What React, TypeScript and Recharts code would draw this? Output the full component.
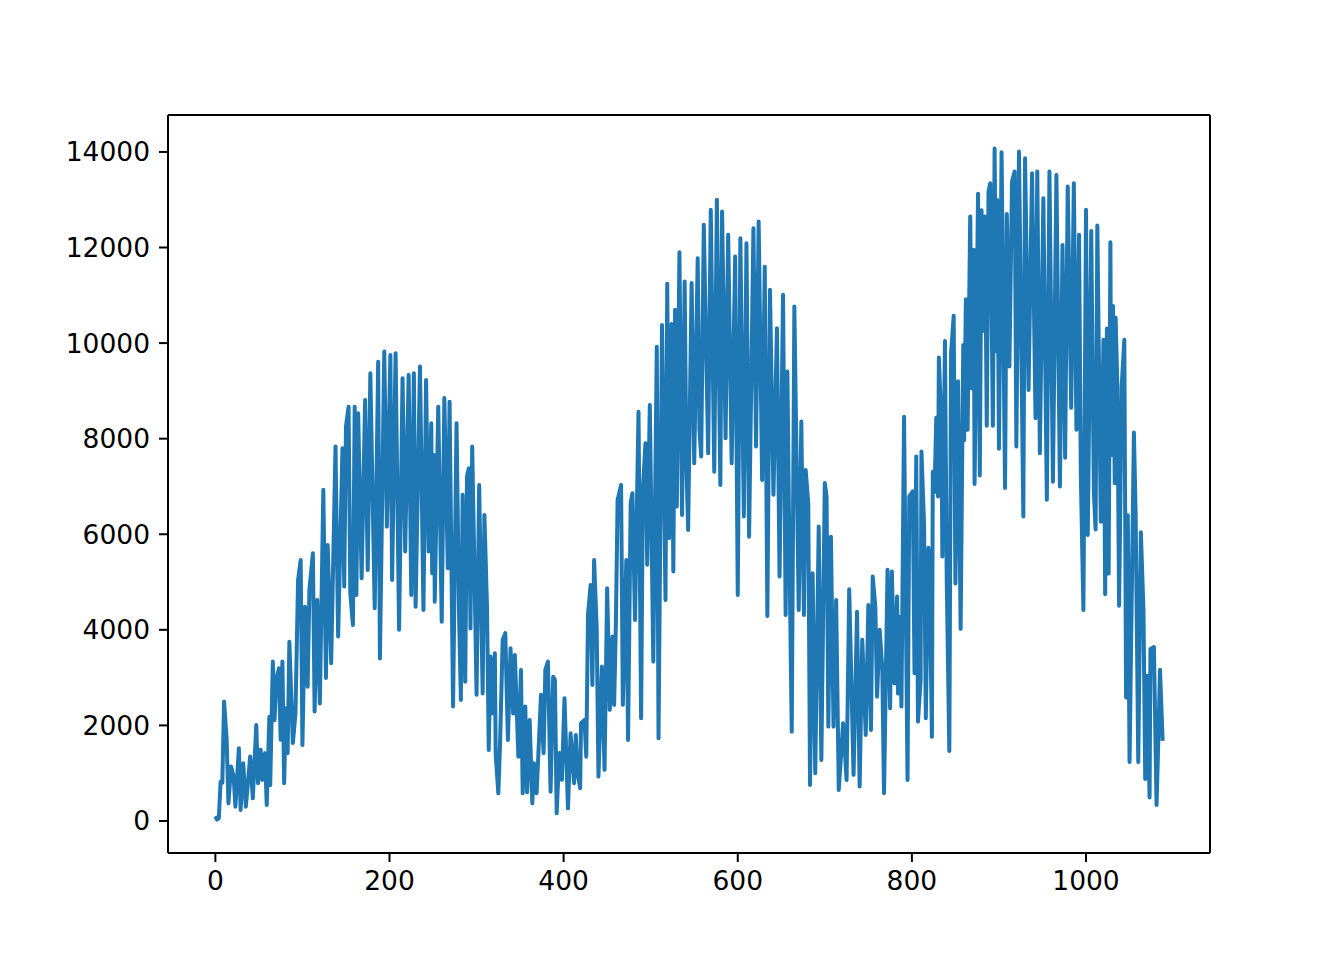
import React from 'react';
import { LineChart, Line, XAxis, YAxis, ReferenceLine } from 'recharts';

const days = [
  0, 2, 4, 6, 8, 10, 13, 15, 18, 21, 23, 27, 29, 32, 35, 40, 43, 47, 49, 52, 54, 57, 59, 62, 63, 66, 68, 70, 73, 75, 77, 79, 81, 83, 85,
  89, 92, 95, 98, 100, 103, 106, 108, 112, 114, 117, 120, 124, 127, 129, 133, 138, 141, 146, 148, 150, 153, 155, 158, 160, 162, 164, 168,
  172, 175, 178, 183, 187, 189, 194, 197, 201, 203, 207, 211, 215, 218, 222, 225, 228, 230, 235, 239, 242, 245, 248, 249, 251, 252, 256, 260, 263, 267, 269,
  273, 277, 280, 282, 284, 287, 289, 291, 293, 295, 298, 300, 303, 307, 309, 312, 314, 316, 318, 321, 322, 325, 327, 330, 333, 336, 339, 342, 344, 348, 351, 353,
  356, 358, 361, 364, 366, 369, 374, 377, 379, 382, 385, 388, 390, 392, 395, 398, 401, 405, 408, 412, 414, 416, 419, 420, 424, 426, 428, 431, 433, 435, 438, 440, 444, 447, 450, 453,
  456, 458, 460, 462, 466, 468, 472, 474, 477, 479, 482, 486, 489, 491, 494, 496, 499, 503, 507, 509, 513, 517, 519, 521, 524, 526, 528, 530, 533, 536, 539, 541, 543,
  547, 550, 554, 556, 558, 561, 566, 569, 573, 576, 580, 582, 586, 589, 593, 597, 600, 603, 607, 610, 613, 618, 621, 624, 628, 631, 634, 637,
  641, 645, 648, 652, 655, 657, 659, 662, 665, 670, 673, 676, 678, 681, 683, 686, 689, 693, 696, 700, 702, 704, 707, 710, 713, 716, 721, 725, 728,
  733, 737, 740, 743, 747, 750, 753, 755, 758, 760, 763, 766, 768, 772, 775, 777, 780, 783, 784, 786, 788, 791, 793, 795, 797, 801, 803, 805, 807, 810, 811, 814, 816, 819, 821,
  823, 824, 826, 828, 830, 831, 834, 835, 838, 840, 843, 845, 848, 850, 853, 856, 859, 860, 862, 864, 867, 869, 871, 872, 876, 878, 880, 882, 884, 886, 888, 890, 893, 895, 897, 898, 900, 903, 907,
  909, 912, 915, 918, 920, 923, 928, 930, 934, 938, 942, 944, 947, 951, 955, 958, 962, 966, 970, 973, 976, 979, 983, 986, 989, 992, 994, 997, 1000, 1002,
  1006, 1009, 1011, 1013, 1017, 1020, 1022, 1024, 1026, 1028, 1029, 1031, 1033, 1034, 1036, 1038, 1041, 1044, 1046, 1048, 1050, 1055, 1057, 1060, 1063, 1066, 1068, 1070, 1073, 1074, 1078, 1081, 1083, 1085, 1088,
];

const counts = [
  100, 30, 60, 820, 800, 2500, 1700, 370, 1140, 930, 300, 1520, 230, 1210, 300, 1350, 475, 2010, 790, 1490, 860, 1420, 335, 2180, 750, 3335, 2110, 2950, 3195, 1700, 3335, 790, 2360, 1420, 3750,
  1630, 2250, 5045, 5460, 1590, 4485, 2810, 4835, 5600, 2290, 4625, 2460, 6930, 2990, 5775, 3300, 7835, 3860, 7800, 4905, 8255, 8670, 4765, 4100, 8670, 4730, 8530, 5080,
  8810, 5250, 9370, 4450, 9610, 3400, 9825, 6160, 9750, 5045, 9790, 4000, 9265, 5640, 9335, 4730, 9370, 4485, 9510, 4415, 9230, 5640, 8325, 5185, 7660, 4590, 8670, 4170, 8850, 5290, 8775,
  2395, 8325, 4205, 2530, 6825, 2915, 7205, 7380, 4030, 7835, 4800, 2640, 7030, 2670, 6405, 4485, 1485, 3440, 2250, 3510, 1380, 580, 1625, 3790, 3930, 1695, 3615, 2250, 3475, 1345, 3160, 580,
  2395, 600, 2115, 370, 1210, 580, 2640, 1420, 3160, 3335, 615, 3020, 2950, 160, 1420, 860, 2570, 265, 1835, 790, 1800, 1000, 685, 2045, 2115, 1345, 4310, 4940, 2845, 5460, 4030, 930, 3230, 1070, 4870, 2325,
  3860, 2430, 4100, 6720, 7030, 2430, 5460, 1695, 6650, 6860, 4205, 8565, 2150, 6930, 7905, 5360, 8705, 3335, 9925, 1730, 10380, 4625, 11240, 5915, 10400, 5220, 10700, 6580, 11900, 6405, 11290, 7485, 6090,
  11255, 7485, 11775, 8185, 7625, 12475, 7695, 12790, 7310, 13000, 7030, 12755, 8010, 12265, 7485, 11810, 4730, 12195, 6370, 12090, 5950, 12405, 7835, 12545, 7135, 11600, 4290, 11115,
  6825, 10310, 5115, 11010, 4310, 9405, 6090, 1870, 10765, 4415, 8360, 4310, 7345, 6650, 755, 5185, 1000, 6160, 1275, 7070, 6790, 1975, 5950, 1975, 4625, 650, 2045, 860, 4850,
  965, 4380, 720, 3790, 1800, 4520, 1905, 5115, 4485, 2600, 4000, 3195, 580, 5255, 2360, 5220, 2880, 4695, 2670, 4275, 2395, 8460, 4625, 860, 6790, 6895, 3090, 7625, 2080, 2950, 7730, 6195, 2150, 5715, 4400,
  1760, 7310, 6885, 8440, 6790, 9700, 8185, 5535, 10045, 5065, 1465, 9785, 10570, 4970, 9200, 4020, 9960, 7965, 10915, 8185, 12650, 9050, 11955, 7050, 13125, 7230, 12780, 10260, 12650, 8270, 13170, 13345, 8270, 14070, 9830, 12995, 7790, 13995, 6970,
  12700, 9510, 13380, 13590, 7835, 14010, 6370, 13870, 9020, 13555, 8430, 13590, 7695, 13030, 6720, 13590, 7100, 13520, 7000, 12055, 7600, 13275, 8645, 13345, 8185, 12265, 7275, 4415, 12790, 5985,
  12345, 6885, 6100, 12460, 6260, 10070, 4745, 10305, 5180, 12110, 7660, 10775, 7065, 10530, 9110, 4505, 9110, 10070, 2585, 6400, 1235, 8130, 6435, 1235, 6040, 4390, 880, 3040, 490, 3600, 3640, 335, 1675, 3165, 1675,
];

const xTicks = [0, 200, 400, 600, 800, 1000];
const yTicks = [0, 2000, 4000, 6000, 8000, 10000, 12000, 14000];

const xDomain: [number, number] = [-54.4, 1142.4];
const yDomain: [number, number] = [-670, 14773];

const tickStyle = { fill: '#000', fontSize: 26.5, fontFamily: 'DejaVu Sans' };
const lineStyle = { stroke: '#000', strokeWidth: 2 };

export default function App() {
  const data = days.map((d, i) => ({ day: d, value: counts[i] }));
  return (
    <div style={{ position: 'absolute', left: 0, top: 0, width: 1344, height: 960, background: '#fff' }}>
      <LineChart width={1344} height={960} data={data} margin={{ top: 115, right: 134, bottom: 77, left: 108 }}>
        <XAxis
          dataKey="day"
          type="number"
          domain={xDomain}
          allowDataOverflow
          ticks={xTicks}
          interval={0}
          height={30}
          tickSize={9}
          tickMargin={9}
          axisLine={lineStyle}
          tickLine={lineStyle}
          tick={tickStyle}
        />
        <YAxis
          type="number"
          domain={yDomain}
          allowDataOverflow
          ticks={yTicks}
          interval={0}
          width={60}
          tickSize={9}
          tickMargin={9}
          axisLine={lineStyle}
          tickLine={lineStyle}
          tick={tickStyle}
        />
        <Line
          dataKey="value"
          type="linear"
          stroke="#1f77b4"
          strokeWidth={4}
          strokeLinejoin="round"
          dot={false}
          activeDot={false}
          isAnimationActive={false}
        />
        <ReferenceLine y={yDomain[1]} stroke="#000" strokeWidth={2} ifOverflow="visible" />
        <ReferenceLine x={xDomain[1]} stroke="#000" strokeWidth={2} ifOverflow="visible" />
      </LineChart>
    </div>
  );
}
